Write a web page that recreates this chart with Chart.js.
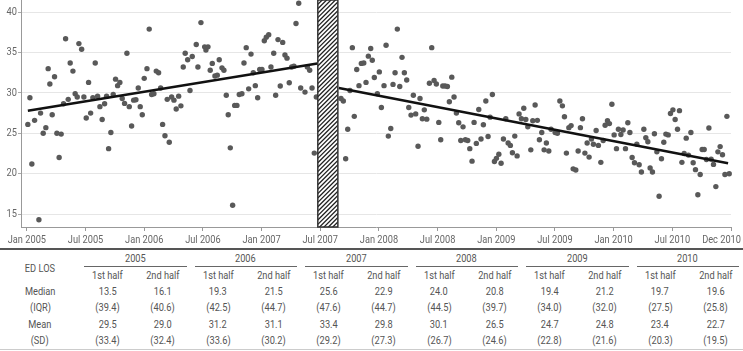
<!DOCTYPE html>
<html lang="en">
<head>
<meta charset="UTF-8">
<script src="https://cdn.jsdelivr.net/npm/chart.js"></script>
<title>ED LOS</title>
<style>
    body {
        margin: 0;
        width: 743px;
        height: 351px;
        overflow: hidden;
        background: #fff;
        font-family: 'Roboto', sans-serif;
        color: #555;
    }
    .chart-box {
        position: relative;
        width: 743px;
        height: 248px;
    }
    table {
        border-collapse: collapse;
        table-layout: fixed;
        width: 743px;
        font-size: 11px;
        border-top: 2px solid #555;
        border-bottom: 1px solid #ccc;
    }
    td {
        padding: 0;
        text-align: center;
        white-space: nowrap;
        overflow: visible;
    }
    td span {
        display: inline-block;
        transform: scaleX(0.84);
    }
    .yr div {
        margin: 0 4px;
        border-bottom: 1px solid #666;
        line-height: 15px;
    }
    .r1 td { height: 17px; }
    .r2 td { height: 16px; }
    .body td { height: 16.5px; }
</style>
</head>
<body>
<div class="chart-box">
    <canvas id="grafico-los" width="743" height="248"></canvas>
</div>
<table id="tabla-los"></table>

<script>
// weekly ED length of stay, before the gap (months since Jan 2005)
const monthsA = [
    0.10, 0.31, 0.51, 0.79, 1.23, 1.40, 1.67, 1.94, 2.18, 2.35,
    2.59, 2.83, 3.07, 3.30, 3.51, 3.75, 3.96, 4.23, 4.43, 4.71,
    4.94, 5.15, 5.32, 5.60, 5.83, 6.07, 6.31, 6.52, 6.75, 6.99,
    7.23, 7.47, 7.70, 7.95, 8.15, 8.36, 8.59, 8.83, 9.07, 9.28,
    9.51, 9.75, 9.99, 10.23, 10.47, 10.71, 10.92, 11.15, 11.39, 11.59,
    11.80, 12.00, 12.28, 12.51, 12.76, 12.99, 13.23, 13.47, 13.68, 13.88,
    14.12, 14.35, 14.56, 14.80, 15.04, 15.27, 15.52, 15.75, 15.99, 16.19,
    16.44, 16.68, 16.91, 17.32, 17.49, 17.80, 18.18, 18.31, 18.52, 18.75,
    18.96, 19.23, 19.47, 19.67, 19.95, 20.15, 20.39, 20.59, 20.80, 21.04,
    21.25, 21.48, 21.72, 21.99, 22.20, 22.43, 22.68, 22.92, 23.15, 23.36,
    23.60, 23.81, 24.04, 24.28, 24.48, 24.73, 24.96, 25.24, 25.44, 25.68,
    25.91, 26.16, 26.39, 26.60, 26.83, 27.08, 27.31, 27.52, 27.80, 28.00,
    28.44, 28.68, 28.92, 29.16, 29.39, 29.60
];
const losA = [
    26.1, 29.4, 21.2, 26.6, 14.3, 27.5, 25.0, 25.7, 33.0, 31.1,
    27.3, 32.0, 25.0, 22.0, 24.9, 28.65, 36.7, 29.2, 33.7, 32.7,
    29.9, 29.5, 36.1, 35.4, 29.5, 26.9, 31.3, 27.5, 29.4, 33.7,
    29.6, 28.3, 26.7, 28.65, 29.6, 23.1, 25.1, 29.8, 31.7, 30.9,
    31.3, 29.3, 28.7, 34.9, 28.3, 25.9, 29.1, 29.15, 30.6, 28.3,
    27.3, 31.8, 33.0, 37.9, 29.8, 29.9, 32.7, 32.5, 30.6, 26.1,
    24.7, 29.2, 23.9, 29.5, 29.1, 28.0, 29.6, 28.4, 33.2, 34.9,
    34.1, 30.3, 34.5, 36.0, 33.2, 38.7, 35.7, 35.3, 35.7, 32.8,
    33.65, 32.1, 32.2, 34.1, 33.1, 32.8, 29.7, 27.3, 23.2, 16.1,
    28.45, 28.45, 29.8, 29.9, 33.7, 35.6, 30.5, 34.8, 32.5, 30.9,
    29.4, 32.9, 32.9, 36.45, 36.9, 37.2, 33.2, 34.9, 29.7, 36.6,
    30.85, 36.25, 34.7, 34.3, 31.25, 33.2, 33.3, 38.6, 41.1, 30.6,
    30.1, 33.2, 32.8, 30.6, 22.55, 29.5
];

// after the gap
const monthsB = [
    32.12, 32.36, 32.60, 32.81, 33.04, 33.28, 33.48, 33.73, 33.96, 34.20,
    34.45, 34.68, 34.92, 35.16, 35.32, 35.53, 35.84, 36.04, 36.25, 36.52,
    36.73, 36.96, 37.21, 37.44, 37.65, 37.88, 38.13, 38.36, 38.60, 38.84,
    39.05, 39.28, 39.52, 39.76, 40.00, 40.20, 40.44, 40.64, 40.89, 41.16,
    41.40, 41.64, 41.87, 42.12, 42.32, 42.53, 42.76, 43.00, 43.20, 43.45,
    43.68, 43.92, 44.16, 44.37, 44.60, 44.84, 45.08, 45.29, 45.52, 45.73,
    45.96, 46.21, 46.44, 46.68, 46.93, 47.16, 47.37, 47.60, 47.81, 48.01,
    48.26, 48.49, 48.73, 48.97, 49.21, 49.44, 49.65, 49.89, 50.13, 50.33,
    50.57, 50.81, 51.02, 51.22, 51.53, 51.73, 51.97, 52.20, 52.41, 52.65,
    52.89, 53.12, 53.37, 53.60, 54.02, 54.25, 54.50, 54.76, 54.97, 55.17,
    55.42, 55.65, 55.86, 56.13, 56.37, 56.60, 56.81, 57.06, 57.29, 57.49,
    57.73, 57.93, 58.21, 58.44, 58.69, 58.93, 59.13, 59.37, 59.57, 59.82,
    60.05, 60.29, 60.49, 60.74, 60.97, 61.21, 61.45, 61.66, 61.89, 62.13,
    62.37, 62.61, 62.84, 63.09, 63.29, 63.50, 63.73, 63.97, 64.17, 64.42,
    64.65, 64.89, 65.13, 65.34, 65.58, 65.81, 66.06, 66.29, 66.53, 66.73,
    66.98, 67.21, 67.42, 67.65, 67.90, 68.13, 68.37, 68.61, 68.85, 69.05,
    69.26, 69.49, 69.74, 69.97, 70.21, 70.45, 70.66, 70.89, 71.13, 71.38,
    71.58, 71.82
];
const losB = [
    29.3, 29.0, 21.85, 25.5, 30.3, 35.6, 27.1, 32.9, 30.9, 33.65,
    33.7, 31.3, 34.55, 35.5, 34.05, 31.9, 29.9, 32.6, 28.2, 30.9,
    35.9, 24.65, 25.6, 31.05, 32.5, 37.9, 30.8, 34.4, 32.5, 31.6,
    28.2, 27.25, 29.7, 27.4, 23.4, 29.3, 26.8, 27.9, 26.75, 31.2,
    35.6, 31.55, 31.1, 26.35, 24.2, 30.85, 30.85, 30.8, 28.9, 31.95,
    29.5, 27.5, 26.3, 24.1, 25.8, 24.2, 24.1, 23.1, 21.55, 26.35,
    23.75, 27.95, 24.3, 26.05, 29.0, 24.6, 27.0, 29.8, 21.5, 21.9,
    22.4, 21.3, 24.3, 26.8, 23.8, 23.5, 22.6, 24.65, 22.2, 27.4,
    26.8, 28.1, 26.7, 25.8, 22.95, 26.55, 28.5, 26.6, 24.2, 25.1,
    22.95, 23.8, 22.8, 25.5, 25.1, 25.0, 29.0, 28.4, 27.05, 22.55,
    25.7, 25.95, 20.6, 20.45, 22.8, 25.7, 26.8, 22.55, 23.8, 22.05,
    24.3, 23.65, 25.35, 23.5, 21.4, 24.1, 26.0, 26.55, 26.2, 28.6,
    24.8, 23.1, 25.5, 24.85, 25.4, 23.1, 26.3, 25.1, 22.0, 21.35,
    23.65, 21.1, 20.2, 25.5, 24.45, 23.95, 20.7, 20.2, 24.95, 22.7,
    17.2, 21.85, 23.9, 24.9, 24.8, 27.45, 27.9, 26.7, 25.5, 27.8,
    21.4, 22.5, 24.4, 22.3, 25.1, 21.35, 20.5, 17.4, 19.9, 23.0,
    23.0, 21.75, 25.65, 21.8, 21.15, 18.4, 22.7, 23.35, 22.35, 19.9,
    27.1, 20.0
];

// regression lines (start / end month and value)
const trendMonthsA = [0.1, 29.7];
const trendLosA = [27.8, 33.65];
const trendMonthsB = [31.9, 71.7];
const trendLosB = [30.6, 21.3];

// hatched gap (months)
const gapMonths = [29.75, 31.8];

const xTickVals = [0, 6, 12, 18, 24, 30, 36, 42, 48, 54, 60, 66, 72];
const xTickLabels = ['Jan 2005', 'Jul 2005', 'Jan 2006', 'Jul 2006', 'Jan 2007', 'Jul 2007',
    'Jan 2008', 'Jul 2008', 'Jan 2009', 'Jul 2009', 'Jan 2010', 'Jul 2010', 'Dec 2010'];
const yTickVals = [15, 20, 25, 30, 35, 40];

// table below the chart
const tableYears = ['2005', '2006', '2007', '2008', '2009', '2010'];
const tableHalves = ['1st half', '2nd half'];
const medianLos = [13.5, 16.1, 19.3, 21.5, 25.6, 22.9, 24.0, 20.8, 19.4, 21.2, 19.7, 19.6];
const iqrLos = [39.4, 40.6, 42.5, 44.7, 47.6, 44.7, 44.5, 39.7, 34.0, 32.0, 27.5, 25.8];
const meanLos = [29.5, 29.0, 31.2, 31.1, 33.4, 29.8, 30.1, 26.5, 24.7, 24.8, 23.4, 22.7];
const sdLos = [33.4, 32.4, 33.6, 30.2, 29.2, 27.3, 26.7, 24.6, 22.8, 21.6, 20.3, 19.5];

const labelFont = '11px Roboto, sans-serif';
const squeeze = 0.84;

function toPoints(xs, ys) {
    return xs.map((x, i) => ({ x: x, y: ys[i] }));
}

// narrow text, like the condensed face of the original
function narrowText(ctx, txt, x, y, align) {
    ctx.save();
    ctx.translate(x, y);
    ctx.scale(squeeze, 1);
    ctx.textAlign = align;
    ctx.fillText(txt, 0, 0);
    ctx.restore();
}

const gapPlugin = {
    id: 'gapHatch',
    afterDatasetsDraw(chart) {
        const { ctx, chartArea, scales } = chart;
        const x0 = scales.x.getPixelForValue(gapMonths[0]);
        const x1 = scales.x.getPixelForValue(gapMonths[1]);
        const top = chartArea.top, bottom = chartArea.bottom;
        const w = x1 - x0, h = bottom - top;
        ctx.save();
        ctx.fillStyle = '#fff';
        ctx.fillRect(x0, top, w, h);
        ctx.beginPath();
        ctx.rect(x0, top, w, h);
        ctx.clip();
        ctx.strokeStyle = '#222';
        ctx.lineWidth = 1.3;
        ctx.beginPath();
        for (let k = 0; k < h + w; k += 4.4) {
            ctx.moveTo(x0, top + k);
            ctx.lineTo(x1, top + k - w);
        }
        ctx.stroke();
        ctx.restore();
        ctx.save();
        ctx.strokeStyle = '#333';
        ctx.lineWidth = 1.5;
        ctx.strokeRect(x0, top, w, h);
        ctx.restore();
    },
    afterDraw(chart) {
        const { ctx, chartArea, scales } = chart;
        ctx.save();
        ctx.font = labelFont;
        ctx.fillStyle = '#666';
        ctx.textBaseline = 'middle';
        // x labels, the last one kept inside the canvas
        xTickVals.forEach((v, i) => {
            const txt = xTickLabels[i];
            const half = ctx.measureText(txt).width * squeeze / 2;
            let px = scales.x.getPixelForValue(v);
            if (px + half > chart.width - 2) px = chart.width - 2 - half;
            if (px - half < 2) px = 2 + half;
            narrowText(ctx, txt, px, chartArea.bottom + 13, 'center');
        });
        // y labels
        yTickVals.forEach(v => {
            narrowText(ctx, String(v), chartArea.left - 4, scales.y.getPixelForValue(v), 'right');
        });
        ctx.restore();
    }
};

new Chart(document.getElementById('grafico-los'), {
    type: 'scatter',
    data: {
        datasets: [
            {
                type: 'line',
                data: toPoints(trendMonthsA, trendLosA),
                borderColor: '#111',
                borderWidth: 2.5,
                pointRadius: 0,
                clip: false
            },
            {
                type: 'line',
                data: toPoints(trendMonthsB, trendLosB),
                borderColor: '#111',
                borderWidth: 2.5,
                pointRadius: 0,
                clip: false
            },
            {
                data: toPoints(monthsA, losA),
                backgroundColor: '#595959',
                borderWidth: 0,
                pointRadius: 2.7,
                clip: false
            },
            {
                data: toPoints(monthsB, losB),
                backgroundColor: '#595959',
                borderWidth: 0,
                pointRadius: 2.7,
                clip: false
            }
        ]
    },
    options: {
        responsive: false,
        animation: false,
        layout: {
            autoPadding: false,
            padding: { left: 0, right: 12, top: 0, bottom: 0 }
        },
        plugins: {
            legend: { display: false },
            tooltip: { enabled: false }
        },
        scales: {
            x: {
                type: 'linear',
                min: -0.6,
                max: 72,
                afterBuildTicks: (scale) => {
                    scale.ticks = xTickVals.map(v => ({ value: v }));
                },
                afterFit: (scale) => {
                    scale.height = 21;
                    scale.paddingLeft = 0;
                    scale.paddingRight = 0;
                },
                ticks: { display: false },
                grid: {
                    drawOnChartArea: false,
                    drawTicks: true,
                    tickLength: 4,
                    tickColor: '#999'
                },
                border: { color: '#999', width: 1 }
            },
            y: {
                min: 13.4,
                max: 41.5,
                afterBuildTicks: (scale) => {
                    scale.ticks = yTickVals.map(v => ({ value: v }));
                },
                afterFit: (scale) => {
                    scale.width = 21;
                    scale.paddingTop = 0;
                    scale.paddingBottom = 0;
                },
                ticks: { display: false },
                grid: {
                    color: '#e6e6e6',
                    drawTicks: true,
                    tickLength: 3,
                    tickColor: '#aaa'
                },
                border: { color: '#999', width: 1 }
            }
        }
    },
    plugins: [gapPlugin]
});

// build the summary table
(function buildTable() {
    const table = document.getElementById('tabla-los');
    let html = '<colgroup><col style="width:80px">';
    for (let i = 0; i < 12; i++) html += '<col style="width:55.25px">';
    html += '</colgroup>';
    html += '<tr class="r1"><td rowspan="2" style="vertical-align:middle;padding-top:3px"><span>ED LOS</span></td>';
    tableYears.forEach(y => {
        html += `<td colspan="2" class="yr"><div><span>${y}</span></div></td>`;
    });
    html += '</tr><tr class="r2">';
    tableYears.forEach(() => {
        tableHalves.forEach(h => { html += `<td><span>${h}</span></td>`; });
    });
    html += '</tr>';
    const rows = [
        ['Median', medianLos, false],
        ['(IQR)', iqrLos, true],
        ['Mean', meanLos, false],
        ['(SD)', sdLos, true]
    ];
    rows.forEach(([label, vals, paren]) => {
        html += `<tr class="body"><td><span>${label}</span></td>`;
        vals.forEach(v => {
            const s = v.toFixed(1);
            html += `<td><span>${paren ? '(' + s + ')' : s}</span></td>`;
        });
        html += '</tr>';
    });
    table.innerHTML = html;
})();
</script>
</body>
</html>
